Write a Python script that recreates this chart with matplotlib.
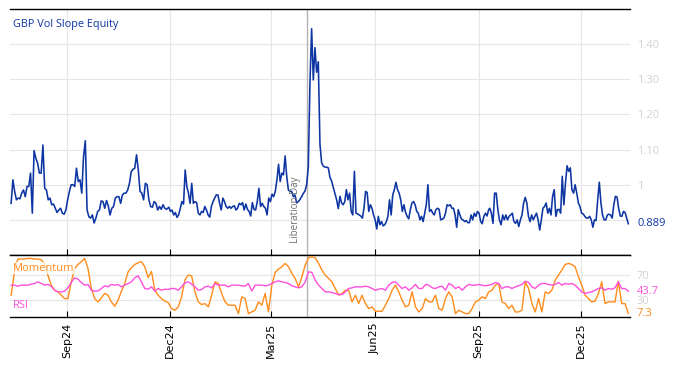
import matplotlib
matplotlib.use('Agg')
import matplotlib.pyplot as plt
import matplotlib.dates as mdates
import pandas as pd

# GBP vol slope in pieces (start, end, values)
slope_a = [0.947, 1.014, 0.981, 0.957, 0.962, 0.960, 0.976, 0.985, 0.966, 0.995,
           0.995, 1.033, 0.919, 1.097, 1.075, 1.061, 1.033, 1.033, 1.113, 0.990,
           0.985, 0.957, 0.962, 0.943, 0.945, 0.933, 0.921, 0.928, 0.933, 0.919,
           0.916, 0.928, 0.957, 0.981, 1.000, 1.000, 0.995, 1.047, 1.009, 1.014,
           0.976, 1.080, 1.125, 0.928, 0.909, 0.905, 0.914, 0.891, 0.905, 0.924,
           0.928, 0.954, 0.952, 0.933, 0.955, 0.940, 0.914, 0.933, 0.938, 0.962,
           0.966, 0.966, 0.947, 0.971, 0.976, 0.976, 0.985, 1.004, 1.037, 1.044,
           1.047, 1.085, 1.042, 0.981, 0.976, 0.957, 1.004, 1.000, 0.957, 0.938,
           0.936, 0.952, 0.947, 0.928, 0.938, 0.930, 0.943, 0.933, 0.930]
slope_b = [0.936, 0.924, 0.928, 0.914, 0.921, 0.907, 0.914, 0.933, 0.952, 0.945,
           1.042, 0.995, 0.976, 0.947, 1.004, 0.947, 0.952, 0.949, 0.919, 0.914,
           0.924, 0.921, 0.938, 0.928, 0.914, 0.908, 0.938, 0.952, 0.962, 0.971,
           0.971, 0.947, 0.928, 0.962, 0.952, 0.938, 0.933, 0.938, 0.933, 0.938,
           0.940, 0.928, 0.933, 0.947, 0.943, 0.949, 0.928, 0.945, 0.930, 0.924,
           0.911, 0.949, 0.930, 0.928, 0.952, 0.990, 0.938, 0.947, 0.938, 0.933,
           0.914, 0.962, 0.952, 0.973, 0.966, 0.981, 1.014, 1.058, 1.009, 1.033,
           1.028, 1.082, 1.023, 0.985, 0.981, 0.981, 0.966, 0.971]
slope_c = [0.948, 0.952, 0.958, 0.966, 0.975, 0.982, 1.000, 1.050, 1.290, 1.444,
           1.298, 1.390, 1.320, 1.350, 1.115, 1.062, 1.053, 1.050, 1.050, 1.048,
           1.021, 1.010, 0.992, 0.973, 0.957, 0.932]
slope_d = [0.967, 0.948, 0.943, 0.952, 0.986, 0.957, 0.976, 0.924, 0.914,
           1.038, 0.919, 0.917, 0.914, 0.911, 0.905, 0.933, 0.981, 0.978, 0.924,
           0.943, 0.933, 0.914, 0.900, 0.874, 0.910, 0.886, 0.895, 0.883, 0.886,
           0.895, 0.910, 0.957, 0.914, 0.971, 0.986, 1.007, 0.986, 0.976, 0.957,
           0.924, 0.943, 0.921, 0.910, 0.903, 0.929, 0.948, 0.952, 0.943, 0.924,
           0.919, 0.900, 0.910, 0.895, 0.919, 0.943, 1.000, 0.924, 0.929, 0.919,
           0.914, 0.929, 0.933, 0.930, 0.900, 0.902, 0.905, 0.919, 0.943, 0.940,
           0.943, 0.933, 0.933, 0.914, 0.879, 0.929, 0.914, 0.902, 0.900, 0.895,
           0.898, 0.892, 0.892, 0.914, 0.900, 0.919, 0.910, 0.924, 0.919, 0.895,
           0.889, 0.910, 0.919, 0.911, 0.929]
slope_e = [0.933, 0.919, 0.890, 0.976, 0.976, 0.929, 0.900, 0.886, 0.914, 0.900,
           0.914, 0.900, 0.910, 0.914, 0.919, 0.895, 0.890, 0.900,
           0.881, 0.900, 0.914, 0.948, 0.964, 0.948, 0.910, 0.895, 0.914, 0.900,
           0.910, 0.919, 0.900, 0.871, 0.900, 0.933, 0.938, 0.948, 0.919, 0.933,
           0.914, 0.967, 0.986, 0.910, 0.929, 0.930, 0.919, 1.024, 0.943, 1.005,
           1.054, 1.038, 1.048, 0.986, 0.976, 1.000, 0.976, 0.948, 0.938, 0.919,
           0.917, 0.910, 0.905, 0.905, 0.910, 0.900, 0.879, 0.900, 0.898, 0.957,
           1.007, 0.948, 0.914, 0.900, 0.900, 0.914, 0.916, 0.914, 0.905, 0.943,
           0.967, 0.965, 0.933, 0.911, 0.910, 0.924, 0.921, 0.905, 0.889]

mom_a = [37.1, 75.5, 96.3, 96.3, 96.3, 97.4, 97.4, 96.3, 96.3, 95.2,
         89.2, 70.0, 53.6, 45.3, 42.6, 37.1, 31.6, 31.6, 59.0, 81.0,
         87.5, 91.9, 97.4, 81.0, 48.1, 31.6, 26.2, 32.7, 39.9, 37.1,
         26.2, 19.0, 28.9, 43.7, 56.3, 75.5, 82.0, 87.5, 90.3, 91.9,
         83.7, 66.0, 76.0, 45.3, 37.1, 31.6, 27.3, 25.0, 15.2, 12.5,
         18.0, 34.4, 61.8, 70.0, 68.9, 42.6, 26.2, 21.8, 23.4, 18.0,
         37.1, 59.0]
mom_b = [56.3, 39.9, 26.2, 20.7, 20.7, 20.7, 7.0, 34.4, 31.6, 7.0,
         9.7, 12.5, 26.2, 20.7, 39.9, 9.7, 53.6, 74.4, 79.9, 83.7,
         89.2, 83.7, 72.7, 64.5, 50.8, 67.3, 86.4, 98.5, 100.1, 98.5,
         89.2, 78.2, 70.0, 64.5, 59.0, 48.1, 37.1, 39.9, 45.3, 45.3,
         26.2, 37.1, 23.4, 37.1, 23.4, 15.2, 18.0, 10.8, 10.8, 10.8,
         20.7, 31.6, 45.3, 53.6, 42.6, 28.9, 18.0, 20.7, 42.6, 18.0,
         9.7]
mom_c = [15.2, 31.6, 26.2, 26.2, 37.1, 15.2, 12.5, 31.6, 42.6, 34.4,
         7.0, 12.5, 9.7, 7.0, 7.0, 15.2, 26.2, 28.9, 34.4, 31.6,
         42.6, 45.3, 53.6, 56.3, 26.2, 23.4, 15.2, 20.7, 9.7, 9.7,
         12.5, 59.0, 48.1, 23.4, 9.7, 31.6, 9.7, 42.6, 39.9, 45.3,
         61.8, 70.0, 78.2, 87.5, 89.2, 87.5, 83.7, 67.3, 53.6, 37.1,
         31.6, 26.2, 27.3, 39.9, 59.0, 23.4, 26.2, 26.2, 26.2, 60.1,
         23.4, 23.4, 7.3]

rsi_a = [53.6, 53.6, 51.9, 53.6, 53.6, 53.6, 55.2, 56.3, 59.0, 56.3,
         53.6, 54.7, 51.9, 45.3, 42.6, 42.6, 43.7, 49.2, 58.0, 65.6,
         63.4, 58.0, 53.6, 54.7, 45.3, 43.7, 44.2, 48.1, 52.5, 50.8,
         54.7, 53.6, 54.7, 50.8, 53.6, 56.3, 59.0, 65.6, 68.9, 59.0,
         48.1, 47.0, 50.8, 43.7, 48.1, 45.3, 47.0, 46.4, 48.1, 48.1,
         45.3, 50.8, 57.4, 59.0, 55.2, 50.8, 45.3, 46.4, 50.8, 51.9,
         49.2, 56.3]
rsi_b = [53.6, 53.6, 53.6, 50.8, 53.6, 53.6, 53.6, 52.5, 51.9, 56.3,
         43.7, 53.6, 53.6, 53.6, 52.5, 53.6, 56.3, 59.0, 60.7, 59.0,
         58.0, 56.3, 52.5, 50.8, 49.2, 50.8, 59.0, 75.5, 74.4, 61.8,
         53.6, 48.1, 42.6, 42.6, 41.5, 39.9, 38.2, 38.2, 42.6, 48.1,
         49.2, 50.8, 50.8, 50.8, 51.9, 50.8, 48.1, 45.3, 47.0, 48.1,
         45.3, 53.6, 58.0, 59.0, 53.6, 48.1, 50.8, 45.3, 49.2, 54.7,
         48.1]
rsi_c = [48.1, 54.7, 53.6, 49.2, 48.1, 50.8, 51.9, 45.3, 56.3, 53.6,
         48.1, 50.8, 45.3, 50.8, 54.7, 53.6, 53.6, 54.7, 53.6, 52.5,
         53.6, 54.7, 58.0, 56.3, 48.1, 50.8, 50.8, 48.1, 50.8, 52.5,
         54.7, 60.1, 58.0, 50.8, 48.1, 53.6, 56.3, 56.3, 54.7, 53.6,
         54.7, 58.0, 53.6, 56.3, 55.2, 56.3, 53.6, 48.1, 42.6, 39.9,
         41.5, 42.6, 45.3, 48.1, 49.2, 45.3, 48.1, 47.0, 49.2, 59.0,
         48.1, 48.1, 43.7]

month_ticks = ['2024-09-01', '2024-12-01', '2025-03-01', '2025-06-01', '2025-09-01', '2025-12-01']
slope_ticks = [0.9, 1.0, 1.1, 1.2, 1.3, 1.4]
slope_tick_labels = ['', '1', '1.10', '1.20', '1.30', '1.40']
osc_ticks = [30, 70]
lib_day = pd.Timestamp('2025-04-02')


def seg(start, end, vals):
    return pd.Series(vals, index=pd.date_range(start, end, periods=len(vals)))


slope = pd.concat([seg('2024-07-13', '2024-11-28', slope_a),
                   seg('2024-11-30', '2025-03-22', slope_b),
                   seg('2025-03-23 12:00', '2025-04-29 12:00', slope_c),
                   seg('2025-05-01', '2025-09-10', slope_d),
                   seg('2025-09-11', '2026-01-12', slope_e)])
mom = pd.concat([seg('2024-07-13', '2025-01-10', mom_a),
                 seg('2025-01-13', '2025-07-10', mom_b),
                 seg('2025-07-13', '2026-01-12', mom_c)])
rsi = pd.concat([seg('2024-07-13', '2025-01-10', rsi_a),
                 seg('2025-01-13', '2025-07-10', rsi_b),
                 seg('2025-07-13', '2026-01-12', rsi_c)])

BLUE = '#0d35a3'
ORANGE = '#ff8c1a'
PINK = '#ff4fdc'
GRID = '#e6e6e6'
LIGHT = '#d2d2d2'
UI = 'Open Sans'

fig = plt.figure(figsize=(6.74, 3.66), dpi=100)
ax = fig.add_axes([10 / 674, 1 - 255 / 366, 620 / 674, 246 / 366])
ax2 = fig.add_axes([10 / 674, 1 - 317 / 366, 620 / 674, 62 / 366], sharex=ax)

for a in (ax, ax2):
    for s in ('left', 'right'):
        a.spines[s].set_visible(False)
    for s in ('top', 'bottom'):
        a.spines[s].set_color('black')
        a.spines[s].set_linewidth(1.0)
    a.grid(True, color=GRID, lw=0.8)
    a.set_axisbelow(True)
    a.axvline(lib_day, color='#b4b4b4', lw=1.0, zorder=1)
    a.yaxis.tick_right()
    a.tick_params(axis='y', length=0, pad=5, labelsize=8, labelcolor=LIGHT)
    a.tick_params(axis='x', direction='in', length=4, color='black')

# main panel
ax.plot(slope.index, slope.values, color=BLUE, lw=1.15, zorder=3)
ax.set_ylim(0.8, 1.5)
ax.set_yticks(slope_ticks)
ax.set_yticklabels(slope_tick_labels, family=UI)
ax.tick_params(axis='x', labelbottom=False)
ax.text(0.005, 0.935, 'GBP Vol Slope Equity', transform=ax.transAxes,
        color=BLUE, fontsize=7.8, family=UI, va='center')
ax.annotate(f'{slope.iloc[-1]:.3f}', xy=(1, slope.iloc[-1]), xycoords=('axes fraction', 'data'),
            xytext=(7, 0), textcoords='offset pixels', color=BLUE, fontsize=8,
            family=UI, va='center')
ax.annotate('Liberation Day', xy=(lib_day, 0.8), xytext=(-6, 12), textcoords='offset pixels',
            rotation=90, ha='right', va='bottom', fontsize=7, color='#707070', family=UI)

# oscillator panel
ax2.plot(mom.index, mom.values, color=ORANGE, lw=1.0, zorder=3)
ax2.plot(rsi.index, rsi.values, color=PINK, lw=1.0, zorder=3)
ax2.set_ylim(1.4, 103)
ax2.set_yticks(osc_ticks)
ax2.set_yticklabels([str(t) for t in osc_ticks], family=UI)
ax2.text(0.004, 0.79, 'Momentum', transform=ax2.transAxes, color=ORANGE, fontsize=8,
         family=UI, va='center', zorder=5,
         bbox=dict(facecolor='white', alpha=0.75, edgecolor='none', pad=0.5))
ax2.text(0.004, 0.19, 'RSI', transform=ax2.transAxes, color=PINK, fontsize=8,
         family=UI, va='center', zorder=5)
for ser, col in ((rsi, PINK), (mom, ORANGE)):
    ax2.annotate(f'{ser.iloc[-1]:.1f}', xy=(1, ser.iloc[-1]), xycoords=('axes fraction', 'data'),
                 xytext=(7, 0), textcoords='offset pixels', color=col, fontsize=8,
                 family=UI, va='center')

ax2.set_xlim(pd.Timestamp('2024-07-12'), pd.Timestamp('2026-01-13 12:00'))
ax2.set_xticks(pd.to_datetime(month_ticks))
ax2.xaxis.set_major_formatter(mdates.DateFormatter('%b%y'))
ax2.tick_params(axis='x', labelsize=8, labelrotation=90, pad=4)

fig.savefig('out.png', dpi=100)
